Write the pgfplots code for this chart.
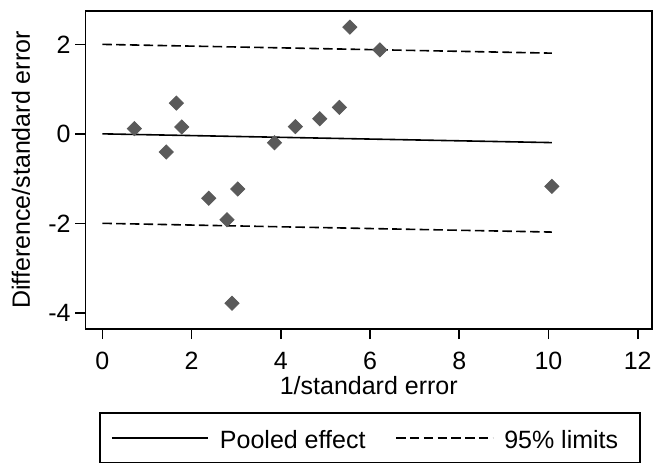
\documentclass[border=0pt]{standalone}
\usepackage{fontspec}
\setmainfont{Liberation Sans}
\usepackage{pgfplots}
\pgfplotsset{compat=1.18}
\definecolor{mk}{RGB}{90,90,90}
\begin{document}
\begin{tikzpicture}[font=\fontsize{12.5}{15}\selectfont]
\begin{axis}[
  name=ax,
  scale only axis,
  width=283.25pt, height=159pt,
  xmin=-0.377, xmax=12.32,
  ymin=-4.363, ymax=2.746,
  xtick={0,2,...,12}, ytick={-4,-2,0,2},
  tick pos=left, tick align=outside,
  major tick length=5pt,
  axis line style={line width=0.8pt},
  every tick/.style={line width=0.8pt, black},
  /pgf/number format/assume math mode=true,
  xticklabel style={anchor=base, inner sep=0pt, yshift=-15.15pt},
  yticklabel style={anchor=east, inner sep=0pt, xshift=-2.25pt},
  xlabel={1/standard error},
  ylabel={Difference/standard error},
  xlabel style={at={(axis description cs:0.5,-0.2053)}, anchor=base, inner sep=0pt},
  ylabel style={at={(axis description cs:-0.098,0.5)}, anchor=base, inner sep=0pt},
  clip=false,
  legend columns=2,
  legend style={
    at={(axis description cs:0.5022,-0.2620)}, anchor=north,
    draw=black, line width=0.8pt,
    inner xsep=5.5pt, inner ysep=2.5pt,
    nodes={inner xsep=5.35pt, inner ysep=2.5pt, text height=12.5pt, text depth=2.2pt},
    /tikz/every even column/.append style={column sep=9.6pt},
  },
  legend image code/.code={\draw[#1] (0pt,0pt) -- (48.3pt,0pt);},
]
\addplot[only marks, mark=square*, mark size=2.5pt, mark options={rotate=45, fill=mk, draw=mk}, forget plot]
coordinates {
(0.717,0.117) (1.660,0.687) (1.780,0.155) (1.435,-0.406)
(2.385,-1.440) (3.035,-1.233) (2.796,-1.920) (2.908,-3.787)
(3.857,-0.199) (4.327,0.162) (4.874,0.339) (5.314,0.591)
(5.547,2.385) (6.220,1.876) (10.076,-1.174)
};
\addplot[black, line width=0.8pt] coordinates {(0,0) (10.076,-0.196)};
\addlegendentry{Pooled effect}
\addplot[black, line width=0.8pt, dash pattern=on 4.75pt off 2.15pt] coordinates {(0,2) (10.076,1.804)};
\addlegendentry{95\% limits}
\addplot[black, line width=0.8pt, dash pattern=on 4.75pt off 2.15pt, forget plot] coordinates {(0,-2) (10.076,-2.196)};
\end{axis}
\pgfresetboundingbox
\path[use as bounding box] ([shift={(-42.75pt,-67pt)}]ax.south west) rectangle ([shift={(0.5pt,5.5pt)}]ax.north east);
\end{tikzpicture}
\end{document}
